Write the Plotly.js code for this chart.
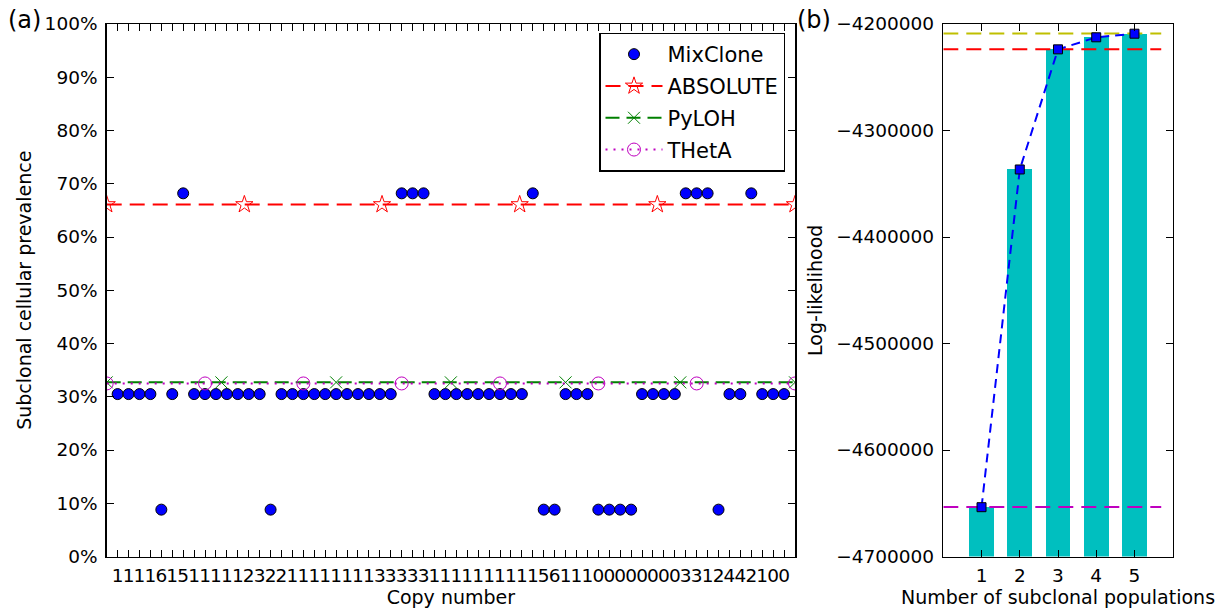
<!DOCTYPE html>
<html>
<head>
<meta charset="utf-8">
<script src="https://cdn.plot.ly/plotly-3.0.1.min.js"></script>
<style>html,body{margin:0;padding:0;background:#fff;} #chart{width:1219px;height:609px;}</style>
</head>
<body>
<div id="chart"></div>
<script>
// ---------- Panel (a) data ----------
const copyNumberLabels = ["1","1","1","1","6","1","5","1","1","1","1","1","2","3","2","2",
  "1","1","1","1","1","1","1","1","3","3","3","3","3","1","1","1","1","1","1","1","1","1","1",
  "5","6","1","1","1","0","0","0","0","0","0","0","0","3","3","1","2","4","4","2","1","0","0"];
const mixClone = [0.305,0.305,0.305,0.305,0.088,0.305,0.682,
  0.305,0.305,0.305,0.305,0.305,0.305,0.305,0.088,
  0.305,0.305,0.305,0.305,0.305,0.305,0.305,0.305,0.305,0.305,0.305,
  0.682,0.682,0.682,
  0.305,0.305,0.305,0.305,0.305,0.305,0.305,0.305,0.305,
  0.682,0.088,0.088,
  0.305,0.305,0.305,
  0.088,0.088,0.088,0.088,
  0.305,0.305,0.305,0.305,
  0.682,0.682,0.682,0.088,
  0.305,0.305,0.682,0.305,0.305,0.305];
const absoluteValue = 0.661;
const pylohValue = 0.327;
const thetaValue = 0.325;
const absoluteMarkerX = [0, 12.6, 25.2, 37.8, 50.4, 63];
const pylohMarkerX = [0, 10.5, 21, 31.5, 42, 52.5, 63];
const thetaMarkerX = [0, 9, 18, 27, 36, 45, 54, 63];
const pctTicks = [0,0.1,0.2,0.3,0.4,0.5,0.6,0.7,0.8,0.9,1.0];
const pctLabels = ["0%","10%","20%","30%","40%","50%","60%","70%","80%","90%","100%"];

// ---------- Panel (b) data ----------
const populations = [1, 2, 3, 4, 5];
const logLikelihood = [-4653700, -4336600, -4223800, -4212500, -4209100];
const refLineValues = [-4209000, -4223600, -4653600];
const refLineColors = ["#bfbf00", "#ff0000", "#bf00bf"];
const llTicks = [-4700000,-4600000,-4500000,-4400000,-4300000,-4200000];
const llLabels = ["\u22124700000","\u22124600000","\u22124500000","\u22124400000","\u22124300000","\u22124200000"];
const llBottom = -4700000;

const FONT = "DejaVu Sans, Bitstream Vera Sans, sans-serif";
const FS = 18.5;
const TFS = 19;
const LFS = 21;

const xIdx = mixClone.map((v, i) => i + 1);
const constY = (arr, v) => arr.map(() => v);

const traces = [
  {x: xIdx, y: mixClone, type: "scatter", mode: "markers", name: "MixClone",
   marker: {symbol: "circle", size: 11, color: "#0000ff", line: {color: "#000", width: 1}},
   xaxis: "x", yaxis: "y", legendgroup: "g1"},
  {x: absoluteMarkerX, y: constY(absoluteMarkerX, absoluteValue), type: "scatter", mode: "lines+markers", name: "ABSOLUTE",
   line: {color: "#ff0000", width: 2, dash: "15px,8px"},
   marker: {symbol: "star-open", size: 13, color: "#ff0000", line: {width: 1}},
   xaxis: "x", yaxis: "y", legendgroup: "g2"},
  {x: pylohMarkerX, y: constY(pylohMarkerX, pylohValue), type: "scatter", mode: "lines+markers", name: "PyLOH",
   line: {color: "#008000", width: 2, dash: "14px,7px"},
   marker: {symbol: "x-thin-open", size: 12, color: "#008000", line: {width: 1, color: "#008000"}},
   xaxis: "x", yaxis: "y", legendgroup: "g3"},
  {x: thetaMarkerX, y: constY(thetaMarkerX, thetaValue), type: "scatter", mode: "lines+markers", name: "THetA",
   line: {color: "#bf00bf", width: 2, dash: "2px,6px"},
   marker: {symbol: "circle-open", size: 13, color: "#bf00bf", line: {width: 1}},
   xaxis: "x", yaxis: "y", legendgroup: "g4"},
  // panel b
  {x: populations, y: logLikelihood.map(v => v - llBottom), base: llBottom, type: "bar", width: 0.65,
   marker: {color: "#00bfbf", line: {width: 0}}, showlegend: false, xaxis: "x2", yaxis: "y2", hoverinfo: "skip"}
];
refLineValues.forEach((v, k) => {
  traces.push({x: [0, 5.7], y: [v, v], type: "scatter", mode: "lines", showlegend: false,
    line: {color: refLineColors[k], width: 2, dash: "15px,8px"}, xaxis: "x2", yaxis: "y2"});
});
traces.push({x: populations, y: logLikelihood, type: "scatter", mode: "lines+markers", showlegend: false,
  line: {color: "#0000ff", width: 2, dash: "9px,6px"},
  marker: {symbol: "square", size: 9, color: "#0000ff", line: {color: "#000", width: 1}},
  xaxis: "x2", yaxis: "y2"});

const W = 1219, H = 609;
const ax = {
  showline: true, linecolor: "#000", linewidth: 1.5, mirror: "ticks", ticks: "inside",
  ticklen: 7, tickwidth: 1, tickcolor: "#000", showgrid: false, zeroline: false,
  tickfont: {family: FONT, size: FS, color: "#000"}, tickangle: 0
};
const layout = {
  width: W, height: H, margin: {l: 0, r: 0, t: 0, b: 0},
  paper_bgcolor: "#fff", plot_bgcolor: "#fff",
  font: {family: FONT, size: FS, color: "#000"},
  showlegend: true,
  bargap: 0,
  xaxis: Object.assign({}, ax, {domain: [106.7/W, 795/W], range: [0, 63], tickvals: xIdx, ticktext: copyNumberLabels,
    ticklabelstandoff: 2,
    title: {text: "Copy number", font: {family: FONT, size: TFS}, standoff: 5}}),
  yaxis: Object.assign({}, ax, {domain: [(H-556.5)/H, (H-24)/H], range: [0, 1], tickvals: pctTicks, ticktext: pctLabels,
    ticklabelstandoff: 4,
    title: {text: "Subclonal cellular prevalence", font: {family: FONT, size: TFS}, standoff: 8}}),
  xaxis2: Object.assign({}, ax, {domain: [943.3/W, 1172.7/W], range: [0, 6], tickvals: populations, ticktext: populations.map(String),
    anchor: "y2", ticklabelstandoff: 2,
    title: {text: "Number of subclonal populations", font: {family: FONT, size: TFS}, standoff: 5}}),
  yaxis2: Object.assign({}, ax, {domain: [(H-556.5)/H, (H-24)/H], range: [-4700000, -4200000], tickvals: llTicks, ticktext: llLabels,
    anchor: "x2", ticklabelstandoff: 4,
    title: {text: "Log-likelihood", font: {family: FONT, size: TFS}, standoff: 8}}),
  legend: {x: 785/W, xanchor: "right", y: (H-32.5)/H, yanchor: "top", bgcolor: "#fff", bordercolor: "#000", borderwidth: 1.5,
    font: {family: FONT, size: LFS}, tracegroupgap: 1.5, itemwidth: 57},
  annotations: [
    {text: "(a)", x: 6/W, y: (H-20)/H, xref: "paper", yref: "paper", xanchor: "left", yanchor: "middle", showarrow: false,
     font: {family: FONT, size: 24}},
    {text: "(b)", x: 795/W, y: (H-20)/H, xref: "paper", yref: "paper", xanchor: "left", yanchor: "middle", showarrow: false,
     font: {family: FONT, size: 24}}
  ]
};
Plotly.newPlot("chart", traces, layout, {staticPlot: true, displayModeBar: false});
</script>
</body>
</html>
